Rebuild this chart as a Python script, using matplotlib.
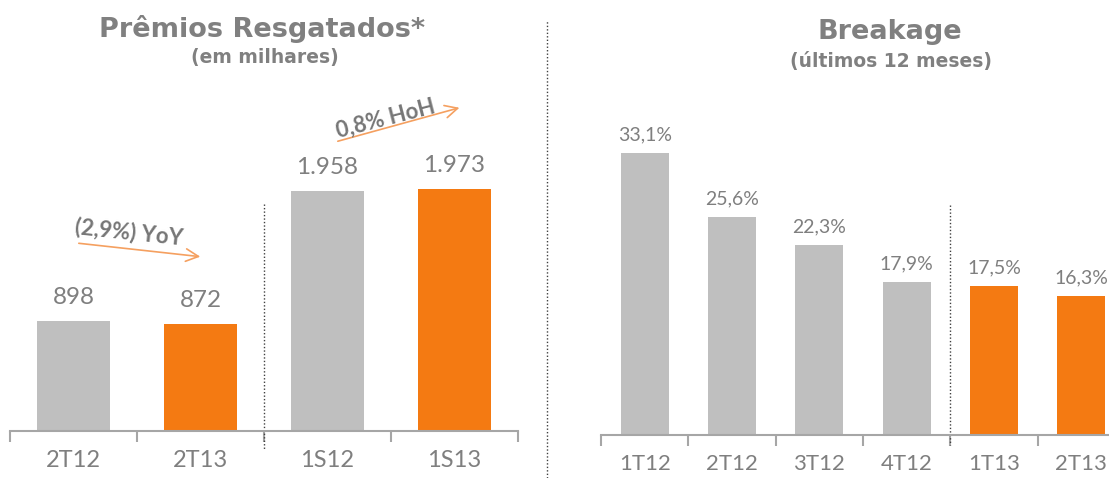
import matplotlib
matplotlib.use("Agg")
import matplotlib.pyplot as plt
from matplotlib.lines import Line2D

# ---- data ----
left_categories = ["2T12", "2T13", "1S12", "1S13"]
left_values = [898, 872, 1958, 1973]
left_labels = ["898", "872", "1.958", "1.973"]
left_colors = ["#bfbfbf", "#f47a12", "#bfbfbf", "#f47a12"]

right_categories = ["1T12", "2T12", "3T12", "4T12", "1T13", "2T13"]
right_values = [33.1, 25.6, 22.3, 17.9, 17.5, 16.3]
right_labels = ["33,1%", "25,6%", "22,3%", "17,9%", "17,5%", "16,3%"]
right_colors = ["#bfbfbf", "#bfbfbf", "#bfbfbf", "#bfbfbf", "#f47a12", "#f47a12"]

W, H = 1109, 478
fig = plt.figure(figsize=(W / 100, H / 100), dpi=100)

GRAY_TXT = "#7f7f7f"
AXIS_C = "#a6a6a6"
ARROW_C = "#f5a060"
NUMFONT = ["Lato", "DejaVu Sans"]


def px_axes(x0, y0, x1, y1):
    # pixel box (top-left origin) -> figure fraction
    return fig.add_axes([x0 / W, 1 - y1 / H, (x1 - x0) / W, (y1 - y0) / H])


def style_axis(ax, n):
    for s in ["top", "right", "left"]:
        ax.spines[s].set_visible(False)
    ax.spines["bottom"].set_color(AXIS_C)
    ax.spines["bottom"].set_linewidth(1.5)
    ax.set_yticks([])
    ax.set_xlim(-0.5, n - 0.5)
    ax.set_xticks(range(n))
    ax.tick_params(axis="x", which="major", length=0, pad=14)
    ax.set_xticks([i - 0.5 for i in range(n + 1)], minor=True)
    ax.tick_params(axis="x", which="minor", length=8, width=1.5, color=AXIS_C, direction="out")
    ax.patch.set_alpha(0)


# ---- left chart ----
axL = px_axes(10, 80, 518, 431)
bL = axL.bar(range(len(left_values)), left_values, width=0.575, color=left_colors)
axL.set_ylim(0, 2860)
style_axis(axL, len(left_values))
axL.set_xticklabels(left_categories, fontsize=17, color=GRAY_TXT, family=NUMFONT)
axL.bar_label(bL, labels=left_labels, padding=9, fontsize=17.5, color=GRAY_TXT, family=NUMFONT)

# divider inside left chart
axL.plot([1.5, 1.5], [1850, -150], ls=(0, (1, 1.5)), color="#404040", lw=1, clip_on=False)

# YoY annotation
axL.annotate("", xy=(1.02, 1418), xytext=(0.02, 1532),
             arrowprops=dict(arrowstyle="->,head_length=0.9,head_width=0.45", color=ARROW_C, lw=1.2))
axL.text(0.44, 1620, "(2,9%) YoY", rotation=-6, ha="center", va="center", fontsize=16,
         fontweight="bold", color="#767676", family=NUMFONT)
# HoH annotation
axL.annotate("", xy=(3.06, 2640), xytext=(2.06, 2355),
             arrowprops=dict(arrowstyle="->,head_length=0.9,head_width=0.45", color=ARROW_C, lw=1.2),
             annotation_clip=False)
axL.text(2.46, 2545, "0,8% HoH", rotation=14.5, ha="center", va="center", fontsize=16,
         fontweight="bold", color="#767676", family=NUMFONT)

# ---- right chart ----
axR = px_axes(601, 80, 1125, 435)
bR = axR.bar(range(len(right_values)), right_values, width=0.55, color=right_colors)
axR.set_ylim(0, 355 / 8.52)
style_axis(axR, len(right_values))
axR.set_xticklabels(right_categories, fontsize=16, color=GRAY_TXT, family=NUMFONT)
axR.bar_label(bR, labels=right_labels, padding=7, fontsize=14, color=GRAY_TXT, family=NUMFONT)
axR.plot([3.5, 3.5], [27.0, -1.2], ls=(0, (1, 1.5)), color="#404040", lw=1, clip_on=False)

# ---- titles ----
fig.text(262 / W, 1 - 29 / H, "Prêmios Resgatados*", ha="center", va="center",
         fontsize=19.5, fontweight="bold", color="#808080", family="DejaVu Sans")
fig.text(265 / W, 1 - 57 / H, "(em milhares)", ha="center", va="center",
         fontsize=13.5, fontweight="bold", color="#808080", family="DejaVu Sans")
fig.text(890 / W, 1 - 32 / H, "Breakage", ha="center", va="center",
         fontsize=19.5, fontweight="bold", color="#808080", family="DejaVu Sans")
fig.text(891 / W, 1 - 61 / H, "(últimos 12 meses)", ha="center", va="center",
         fontsize=13.5, fontweight="bold", color="#808080", family="DejaVu Sans")

# central dotted divider
fig.add_artist(Line2D([547 / W, 547 / W], [0, 1 - 20 / H], transform=fig.transFigure,
                      ls=(0, (1, 1.5)), color="#404040", lw=1))

fig.savefig("out.png", dpi=100)
